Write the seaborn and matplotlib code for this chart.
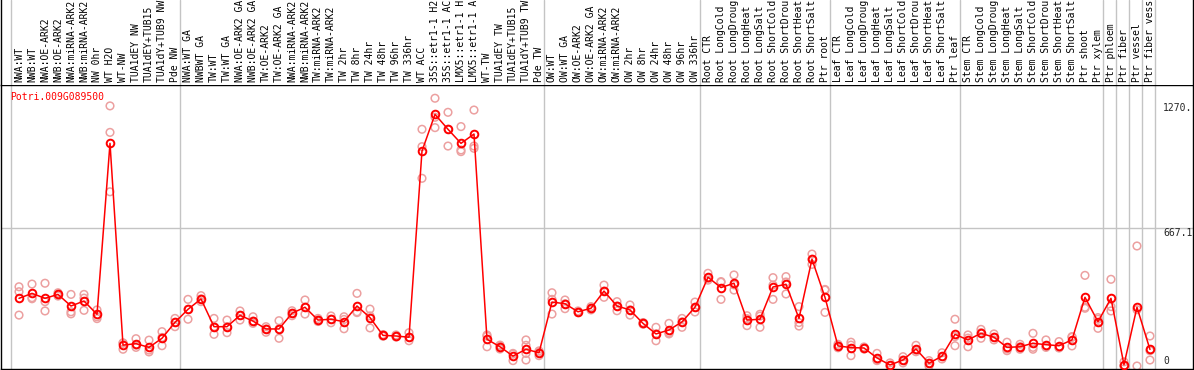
import numpy as np
import pandas as pd
import matplotlib
matplotlib.use("Agg")
import matplotlib.pyplot as plt
import seaborn as sns

#Data.

gene_name = "Potri.009G089500"

#Sample names as far as the reference shows them (long ones are cut at the top edge there).
labels = [
    "NWA:WT", "NWB:WT", "NWA:OE-ARK2", "NWB:OE-ARK2", "NWA:miRNA-ARK2", "NWB:miRNA-ARK2",
    "NW 0hr", "WT H2O", "WT-NW", "TUA1dEY NW", "TUA1dEY+TUB15", "TUA1dY+TUB9 NW", "Pde NW",
    "NWA:WT GA", "NWBWT GA", "TW:WT", "TW:WT GA", "NWA:OE-ARK2 GA", "NWB:OE-ARK2 GA",
    "TW:OE-ARK2", "TW:OE-ARK2 GA", "NWA:miRNA-ARK2", "NWB:miRNA-ARK2", "TW:miRNA-ARK2",
    "TW:miRNA-ARK2", "TW 2hr", "TW 8hr", "TW 24hr", "TW 48hr", "TW 96hr", "TW 336hr",
    "WT ACC", "35S::etr1-1 H2", "35S::etr1-1 AC", "LMX5::etr1-1 H", "LMX5::etr1-1 A",
    "WT-TW", "TUA1dEY TW", "TUA1dEY+TUB15", "TUA1dY+TUB9 TW", "Pde TW",
    "OW:WT", "OW:WT GA", "OW:OE-ARK2", "OW:OE-ARK2 GA", "OW:miRNA-ARK2", "OW:miRNA-ARK2",
    "OW 2hr", "OW 8hr", "OW 24hr", "OW 48hr", "OW 96hr", "OW 336hr",
    "Root CTR", "Root LongCold", "Root LongDroug", "Root LongHeat", "Root LongSalt",
    "Root ShortCold", "Root ShortDrou", "Root ShortHeat", "Root ShortSalt", "Ptr root",
    "Leaf CTR", "Leaf LongCold", "Leaf LongDroug", "Leaf LongHeat", "Leaf LongSalt",
    "Leaf ShortCold", "Leaf ShortDrou", "Leaf ShortHeat", "Leaf ShortSalt", "Ptr leaf",
    "Stem CTR", "Stem LongCold", "Stem LongDroug", "Stem LongHeat", "Stem LongSalt",
    "Stem ShortCold", "Stem ShortDrou", "Stem ShortHeat", "Stem ShortSalt", "Ptr shoot",
    "Ptr xylem", "Ptr phloem", "Ptr fiber", "Ptr vessel", "Ptr fiber vess",
]

#Number of samples in each separated group.
group_sizes = [13, 28, 12, 10, 10, 11, 1, 1, 1, 1]

means = [
    327, 351, 327, 346, 290, 314, 250, 1076, 101, 108, 90, 134, 211,
    274, 324, 190, 190, 245, 217, 179, 179, 255, 284, 222, 226, 214, 290, 234, 148, 145, 139,
    1039, 1216, 1144, 1076, 1121, 129, 93, 48, 81, 64,
    309, 301, 262, 279, 362, 290, 271, 206, 155, 174, 213, 284,
    429, 379, 400, 222, 226, 382, 395, 230, 516, 332,
    97, 89, 87, 39, 5, 29, 82, 13, 48, 153,
    126, 158, 139, 90, 93, 110, 103, 98, 126, 332, 214,
    327, 6, 284, 80,
]

replicates = [
    [383, 359, 246], [396, 330, 325], [400, 311, 266], [354, 346, 338], [346, 262, 252],
    [346, 328, 269], [271, 238, 229], [1257, 1129, 842], [112, 81, 110], [132, 101, 90],
    [125, 77, 68], [166, 138, 98], [230, 211, 190],
    [322, 274, 226], [340, 324, 311], [230, 190, 153], [222, 190, 161], [266, 245, 222],
    [238, 217, 206], [190, 179, 163], [219, 179, 134], [267, 255, 243], [319, 284, 251],
    [230, 222, 215], [242, 226, 209], [238, 225, 180], [351, 262, 258], [275, 242, 184],
    [152, 148, 144], [150, 145, 140], [161, 139, 122], [1144, 1060, 907], [1294, 1202, 1152],
    [1226, 1144, 1063], [1157, 1044, 1036], [1237, 1063, 1052], [150, 144, 93], [101, 96, 82],
    [61, 57, 26], [126, 100, 61, 29], [73, 66, 50],
    [354, 322, 251], [319, 301, 277], [266, 262, 258], [287, 279, 271], [391, 362, 332],
    [311, 290, 267], [295, 271, 246], [210, 206, 202], [187, 155, 122], [206, 161, 155],
    [230, 213, 187], [309, 284, 261],
    [448, 424, 415], [408, 405, 322], [440, 392, 367], [243, 229, 195], [250, 241, 187],
    [427, 391, 322], [432, 406, 348], [287, 210, 193], [541, 516, 491], [370, 367, 259],
    [105, 97, 88], [115, 101, 50], [92, 87, 82], [61, 30, 26], [15, 2, 0],
    [45, 29, 15], [100, 77, 69], [26, 13, 0], [64, 46, 34], [226, 142, 98],
    [150, 135, 93], [177, 161, 134], [155, 139, 126], [115, 82, 74], [105, 93, 81],
    [158, 90, 81], [126, 93, 90], [118, 90, 87], [142, 139, 97], [438, 284, 279],
    [234, 226, 182],
    [419, 287, 266], [20, 0, 0], [580, 272, 0], [145, 74, 29],
]

ytick_values = [0, 667.1, 1270]
ytick_labels = ["0", "667.1", "1270."]

#Tables for seaborn.
mean_df = pd.DataFrame({"x": np.arange(len(labels)), "value": means})
rep_df = pd.DataFrame(
    [(i, v) for i, reps in enumerate(replicates) for v in reps],
    columns=["x", "value"],
)

#Style
sns.set_style("white")
plt.rcParams["font.family"] = ["DejaVu Sans Mono"]
FONT = 7.0
GRID = "#c4c4c4"
REP_COLOR = "#eca0a0"

W, H = 1194, 370
fig = plt.figure(figsize=(W / 100, H / 100), dpi=100)
ax = fig.add_axes([1 / W, 1 / H, 1192 / W, 284 / H])
axh = fig.add_axes([1 / W, 285 / H, 1192 / W, 85 / H], sharex=ax)

#Group separators and the single horizontal grid line.
bounds = np.concatenate([[0], np.cumsum(group_sizes)]) - 0.62
for b in bounds:
    ax.axvline(b, color=GRID, lw=1, zorder=0)
    axh.axvline(b, color=GRID, lw=1, zorder=0)
ax.axhline(ytick_values[1], color=GRID, lw=1, zorder=0)

#Replicates and the mean line.
sns.scatterplot(data=rep_df, x="x", y="value", ax=ax, marker="o", s=30,
                facecolors="none", edgecolor=REP_COLOR, linewidth=1.1, zorder=2)
sns.lineplot(data=mean_df, x="x", y="value", ax=ax, color="red", lw=1.1,
             marker="o", markersize=5.5, markerfacecolor="none",
             markeredgecolor="red", markeredgewidth=1.4, zorder=3)

ax.set_xlim(-1.385, 90.31)
ax.set_ylim(-14.5, 1358)
ax.set_xticks([])
ax.set_yticks([])
ax.set_xlabel("")
ax.set_ylabel("")
for sp in ax.spines.values():
    sp.set_color("black")
    sp.set_linewidth(1)

#Value labels drawn inside on the right.
ax.text(88.0, ytick_values[2], ytick_labels[2], va="top", ha="left", fontsize=FONT)
ax.text(88.0, ytick_values[1], ytick_labels[1], va="top", ha="left", fontsize=FONT)
ax.text(88.0, ytick_values[0], ytick_labels[0], va="bottom", ha="left", fontsize=FONT)

ax.text(0.0076, 0.975, gene_name, transform=ax.transAxes, color="red",
        va="top", ha="left", fontsize=FONT)

#Header with rotated sample names.
axh.set_ylim(0, 1)
axh.set_yticks([])
axh.tick_params(bottom=False, labelbottom=False)
axh.spines["top"].set_visible(False)
axh.spines["bottom"].set_visible(False)
for side in ["left", "right"]:
    axh.spines[side].set_color("black")
    axh.spines[side].set_linewidth(1)
for i, lab in enumerate(labels):
    axh.text(i, 2.5 / 85, lab, rotation=90, ha="center", va="bottom",
             fontsize=FONT, color="black", clip_on=False)

fig.savefig("out.png", dpi=100)
